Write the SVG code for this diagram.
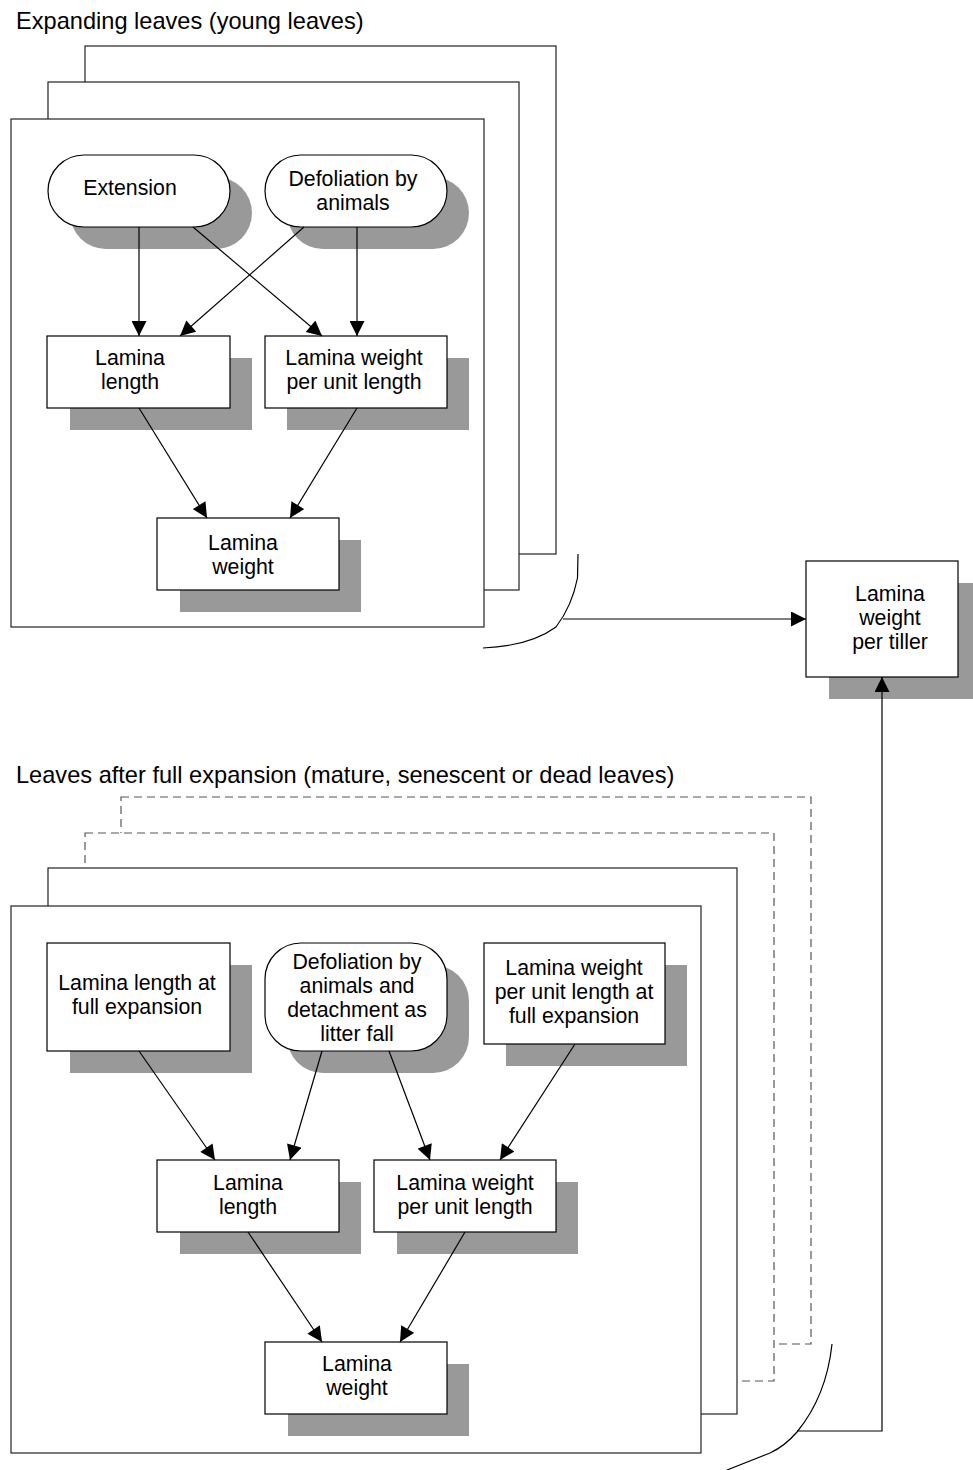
<svg xmlns="http://www.w3.org/2000/svg" width="973" height="1470" viewBox="0 0 973 1470">
<style>
.t{font-family:"Liberation Sans",Arial,sans-serif;font-size:21.3px;fill:#000;text-anchor:middle}
.title{font-family:"Liberation Sans",Arial,sans-serif;font-size:23.6px;fill:#000}
.frame{fill:#fff;stroke:#222;stroke-width:1.2}
.dash{fill:#fff;stroke:#555;stroke-width:1.2;stroke-dasharray:8,5}
.node{fill:#fff;stroke:#000;stroke-width:1.2}
.sh{fill:#999;stroke:none}
.c{fill:none;stroke:#000;stroke-width:1.2}
.arr{marker-end:url(#ah)}
</style>
<defs>
<marker id="ah" viewBox="0 0 10 10" refX="10" refY="5" markerUnits="userSpaceOnUse" markerWidth="16" markerHeight="15" orient="auto">
<path d="M0,0 L10,5 L0,10 z" fill="#000"/>
</marker>
</defs>
<rect width="973" height="1470" fill="#fff"/>

<text class="title" x="16" y="29">Expanding leaves (young leaves)</text>
<text class="title" x="16" y="783">Leaves after full expansion (mature, senescent or dead leaves)</text>

<g id="frames-top">
<rect class="frame" x="85" y="46" width="471" height="508"/>
<rect class="frame" x="48" y="82" width="471" height="508"/>
<rect class="frame" x="11" y="119" width="473" height="508"/>
</g>
<g id="frames-bottom">
<rect class="dash" x="121" y="797" width="690" height="547"/>
<rect class="dash" x="85" y="833" width="689" height="548"/>
<rect class="frame" x="48" y="868" width="689" height="546"/>
<rect class="frame" x="11" y="906" width="690" height="547"/>
</g>

<g id="n-extension">
<rect class="sh" x="70" y="177" width="182" height="72" rx="36"/>
<rect class="node" x="48" y="155" width="182" height="72" rx="36"/>
<text class="t" x="130" y="195">Extension</text>
</g>
<g id="n-defol-top">
<rect class="sh" x="287" y="177" width="182" height="72" rx="36"/>
<rect class="node" x="265" y="155" width="182" height="72" rx="36"/>
<text class="t" x="353" y="186">Defoliation by</text>
<text class="t" x="353" y="210">animals</text>
</g>
<g id="n-len-top">
<rect class="sh" x="70" y="358" width="182" height="72"/>
<rect class="node" x="47" y="336" width="183" height="72"/>
<text class="t" x="130" y="365">Lamina</text>
<text class="t" x="130" y="389">length</text>
</g>
<g id="n-wpul-top">
<rect class="sh" x="287" y="358" width="182" height="72"/>
<rect class="node" x="265" y="336" width="182" height="72"/>
<text class="t" x="354" y="365">Lamina weight</text>
<text class="t" x="354" y="389">per unit length</text>
</g>
<g id="n-weight-top">
<rect class="sh" x="180" y="540" width="181" height="72"/>
<rect class="node" x="157" y="518" width="182" height="72"/>
<text class="t" x="243" y="550">Lamina</text>
<text class="t" x="243" y="574">weight</text>
</g>
<g id="n-tiller">
<rect class="sh" x="829" y="583" width="150" height="116"/>
<rect class="node" x="806" y="561" width="152" height="116"/>
<text class="t" x="890" y="601">Lamina</text>
<text class="t" x="890" y="625">weight</text>
<text class="t" x="890" y="649">per tiller</text>
</g>

<g id="n-lenfull">
<rect class="sh" x="70" y="965" width="182" height="108"/>
<rect class="node" x="47" y="943" width="183" height="108"/>
<text class="t" x="137" y="990">Lamina length at</text>
<text class="t" x="137" y="1014">full expansion</text>
</g>
<g id="n-defol-bottom">
<rect class="sh" x="287" y="965" width="182" height="108" rx="36"/>
<rect class="node" x="265" y="943" width="182" height="108" rx="36"/>
<text class="t" x="357" y="969">Defoliation by</text>
<text class="t" x="357" y="993">animals and</text>
<text class="t" x="357" y="1017">detachment as</text>
<text class="t" x="357" y="1041">litter fall</text>
</g>
<g id="n-wpulfull">
<rect class="sh" x="506" y="965" width="181" height="101"/>
<rect class="node" x="484" y="943" width="181" height="101"/>
<text class="t" x="574" y="975">Lamina weight</text>
<text class="t" x="574" y="999">per unit length at</text>
<text class="t" x="574" y="1023">full expansion</text>
</g>
<g id="n-len-bottom">
<rect class="sh" x="180" y="1182" width="181" height="72"/>
<rect class="node" x="157" y="1160" width="182" height="72"/>
<text class="t" x="248" y="1190">Lamina</text>
<text class="t" x="248" y="1214">length</text>
</g>
<g id="n-wpul-bottom">
<rect class="sh" x="397" y="1182" width="181" height="72"/>
<rect class="node" x="374" y="1160" width="182" height="72"/>
<text class="t" x="465" y="1190">Lamina weight</text>
<text class="t" x="465" y="1214">per unit length</text>
</g>
<g id="n-weight-bottom">
<rect class="sh" x="288" y="1364" width="181" height="72"/>
<rect class="node" x="265" y="1342" width="182" height="72"/>
<text class="t" x="357" y="1371">Lamina</text>
<text class="t" x="357" y="1395">weight</text>
</g>

<g id="connectors">
<line class="c arr" x1="139" y1="227" x2="139" y2="336"/>
<line class="c arr" x1="193" y1="227" x2="322" y2="336"/>
<line class="c arr" x1="304" y1="227" x2="180" y2="336"/>
<line class="c arr" x1="357" y1="227" x2="357" y2="336"/>
<line class="c arr" x1="139" y1="408" x2="207" y2="518"/>
<line class="c arr" x1="357" y1="408" x2="290" y2="518"/>
<path class="c" d="M578,554 L577.5,578 Q572,606 556,627 Q530,646 483,648"/>
<line class="c arr" x1="563" y1="619" x2="806" y2="619"/>

<line class="c arr" x1="139" y1="1051" x2="215" y2="1160"/>
<line class="c arr" x1="322" y1="1051" x2="290" y2="1160"/>
<line class="c arr" x1="389" y1="1051" x2="430" y2="1160"/>
<line class="c arr" x1="575" y1="1044" x2="500" y2="1160"/>
<line class="c arr" x1="248" y1="1232" x2="322" y2="1342"/>
<line class="c arr" x1="465" y1="1232" x2="400" y2="1342"/>
<path class="c" d="M832,1344 C828,1382 815,1410 797,1432 Q785,1446 770,1453 L727,1470"/>
<polyline class="c arr" points="797,1431 882,1431 882,677"/>
</g>
</svg>
